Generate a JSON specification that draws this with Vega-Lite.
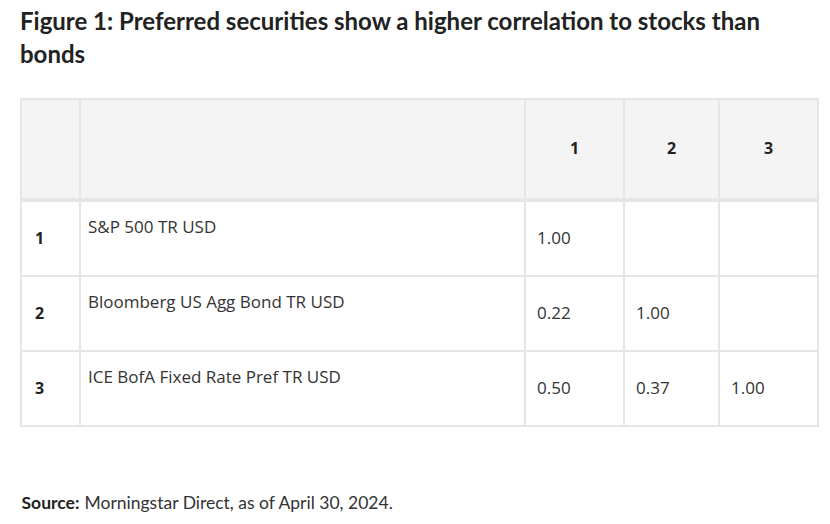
{
  "$schema": "https://vega.github.io/schema/vega-lite/v6.json",
  "background": "white",
  "padding": {"left": 20, "top": 11, "right": 0, "bottom": 0},
  "spacing": 0,
  "title": {
    "text": ["Figure 1: Preferred securities show a higher correlation to stocks than", "bonds"],
    "anchor": "start",
    "font": "Lato",
    "fontSize": 24,
    "fontWeight": "bold",
    "color": "#222222",
    "lineHeight": 33,
    "offset": 30
  },
  "datasets": {
    "header": [
      {"col": "num", "text": ""},
      {"col": "name", "text": ""},
      {"col": "c1", "text": "1"},
      {"col": "c2", "text": "2"},
      {"col": "c3", "text": "3"}
    ],
    "cells": [
      {"row": "1", "col": "num", "text": "1"},
      {"row": "1", "col": "name", "text": "S&P 500 TR USD"},
      {"row": "1", "col": "c1", "text": "1.00"},
      {"row": "1", "col": "c2", "text": ""},
      {"row": "1", "col": "c3", "text": ""},
      {"row": "2", "col": "num", "text": "2"},
      {"row": "2", "col": "name", "text": "Bloomberg US Agg Bond TR USD"},
      {"row": "2", "col": "c1", "text": "0.22"},
      {"row": "2", "col": "c2", "text": "1.00"},
      {"row": "2", "col": "c3", "text": ""},
      {"row": "3", "col": "num", "text": "3"},
      {"row": "3", "col": "name", "text": "ICE BofA Fixed Rate Pref TR USD"},
      {"row": "3", "col": "c1", "text": "0.50"},
      {"row": "3", "col": "c2", "text": "0.37"},
      {"row": "3", "col": "c3", "text": "1.00"}
    ],
    "source": [
      {"label": "Source:", "rest": "Morningstar Direct, as of April 30, 2024."}
    ]
  },
  "vconcat": [
    {
      "spacing": 0,
      "bounds": "flush",
      "hconcat": [
        {
          "width": 59, "height": 100,
          "data": {"name": "header"},
          "transform": [{"filter": "datum.col === 'num'"}],
          "layer": [
            {"mark": {"type": "rect", "fill": "#f4f4f4", "stroke": "#e6e6e6", "strokeWidth": 2}, "encoding": {}},
            {"mark": {"type": "text", "font": "Open Sans", "fontSize": 16, "fontWeight": "bold", "color": "#222222"}, "encoding": {"text": {"field": "text"}}}
          ]
        },
        {
          "width": 445, "height": 100,
          "data": {"name": "header"},
          "transform": [{"filter": "datum.col === 'name'"}],
          "layer": [
            {"mark": {"type": "rect", "fill": "#f4f4f4", "stroke": "#e6e6e6", "strokeWidth": 2}, "encoding": {}},
            {"mark": {"type": "text", "font": "Open Sans", "fontSize": 16, "fontWeight": "bold", "color": "#222222"}, "encoding": {"text": {"field": "text"}}}
          ]
        },
        {
          "width": 99, "height": 100,
          "data": {"name": "header"},
          "transform": [{"filter": "datum.col === 'c1'"}],
          "layer": [
            {"mark": {"type": "rect", "fill": "#f4f4f4", "stroke": "#e6e6e6", "strokeWidth": 2}, "encoding": {}},
            {"mark": {"type": "text", "font": "Open Sans", "fontSize": 16, "fontWeight": "bold", "color": "#222222"}, "encoding": {"text": {"field": "text"}}}
          ]
        },
        {
          "width": 95, "height": 100,
          "data": {"name": "header"},
          "transform": [{"filter": "datum.col === 'c2'"}],
          "layer": [
            {"mark": {"type": "rect", "fill": "#f4f4f4", "stroke": "#e6e6e6", "strokeWidth": 2}, "encoding": {}},
            {"mark": {"type": "text", "font": "Open Sans", "fontSize": 16, "fontWeight": "bold", "color": "#222222"}, "encoding": {"text": {"field": "text"}}}
          ]
        },
        {
          "width": 99, "height": 100,
          "data": {"name": "header"},
          "transform": [{"filter": "datum.col === 'c3'"}],
          "layer": [
            {"mark": {"type": "rect", "fill": "#f4f4f4", "stroke": "#e6e6e6", "strokeWidth": 2}, "encoding": {}},
            {"mark": {"type": "text", "font": "Open Sans", "fontSize": 16, "fontWeight": "bold", "color": "#222222"}, "encoding": {"text": {"field": "text"}}}
          ]
        }
      ]
    },
    {
      "spacing": 0,
      "bounds": "flush",
      "hconcat": [
        {
          "width": 59, "height": 225,
          "data": {"name": "cells"},
          "transform": [{"filter": "datum.col === 'num'"}],
          "encoding": {"y": {"field": "row", "type": "nominal", "sort": ["1", "2", "3"], "scale": {"paddingInner": 0, "paddingOuter": 0}, "axis": null}},
          "layer": [
            {"mark": {"type": "rect", "fill": "white", "stroke": "#e6e6e6", "strokeWidth": 2}},
            {"mark": {"type": "text", "align": "left", "dx": 14, "font": "Open Sans", "fontSize": 16, "fontWeight": "bold", "color": "#222222"},
             "encoding": {"text": {"field": "text"}, "x": {"datum": 0, "type": "quantitative", "scale": {"domain": [0, 1]}, "axis": null}}}
          ]
        },
        {
          "width": 445, "height": 225,
          "data": {"name": "cells"},
          "transform": [{"filter": "datum.col === 'name'"}],
          "encoding": {"y": {"field": "row", "type": "nominal", "sort": ["1", "2", "3"], "scale": {"paddingInner": 0, "paddingOuter": 0}, "axis": null}},
          "layer": [
            {"mark": {"type": "rect", "fill": "white", "stroke": "#e6e6e6", "strokeWidth": 2}},
            {"mark": {"type": "text", "align": "left", "dx": 8, "dy": -11, "font": "Open Sans", "fontSize": 17, "color": "#333333"},
             "encoding": {"text": {"field": "text"}, "x": {"datum": 0, "type": "quantitative", "scale": {"domain": [0, 1]}, "axis": null}}}
          ]
        },
        {
          "width": 99, "height": 225,
          "data": {"name": "cells"},
          "transform": [{"filter": "datum.col === 'c1'"}],
          "encoding": {"y": {"field": "row", "type": "nominal", "sort": ["1", "2", "3"], "scale": {"paddingInner": 0, "paddingOuter": 0}, "axis": null}},
          "layer": [
            {"mark": {"type": "rect", "fill": "white", "stroke": "#e6e6e6", "strokeWidth": 2}},
            {"mark": {"type": "text", "align": "left", "dx": 12, "font": "Open Sans", "fontSize": 17, "color": "#333333"},
             "encoding": {"text": {"field": "text"}, "x": {"datum": 0, "type": "quantitative", "scale": {"domain": [0, 1]}, "axis": null}}}
          ]
        },
        {
          "width": 95, "height": 225,
          "data": {"name": "cells"},
          "transform": [{"filter": "datum.col === 'c2'"}],
          "encoding": {"y": {"field": "row", "type": "nominal", "sort": ["1", "2", "3"], "scale": {"paddingInner": 0, "paddingOuter": 0}, "axis": null}},
          "layer": [
            {"mark": {"type": "rect", "fill": "white", "stroke": "#e6e6e6", "strokeWidth": 2}},
            {"mark": {"type": "text", "align": "left", "dx": 12, "font": "Open Sans", "fontSize": 17, "color": "#333333"},
             "encoding": {"text": {"field": "text"}, "x": {"datum": 0, "type": "quantitative", "scale": {"domain": [0, 1]}, "axis": null}}}
          ]
        },
        {
          "width": 99, "height": 225,
          "data": {"name": "cells"},
          "transform": [{"filter": "datum.col === 'c3'"}],
          "encoding": {"y": {"field": "row", "type": "nominal", "sort": ["1", "2", "3"], "scale": {"paddingInner": 0, "paddingOuter": 0}, "axis": null}},
          "layer": [
            {"mark": {"type": "rect", "fill": "white", "stroke": "#e6e6e6", "strokeWidth": 2}},
            {"mark": {"type": "text", "align": "left", "dx": 12, "font": "Open Sans", "fontSize": 17, "color": "#333333"},
             "encoding": {"text": {"field": "text"}, "x": {"datum": 0, "type": "quantitative", "scale": {"domain": [0, 1]}, "axis": null}}}
          ]
        }
      ]
    },
    {
      "width": 1, "height": 154,
      "data": {"name": "source"},
      "layer": [
        {"mark": {"type": "text", "align": "left", "font": "Lato", "fontSize": 17.5, "fontWeight": "bold", "color": "#222222"},
         "encoding": {"text": {"field": "label"}}},
        {"mark": {"type": "text", "align": "left", "dx": 63, "font": "Lato", "fontSize": 17.5, "color": "#333333"},
         "encoding": {"text": {"field": "rest"}}}
      ]
    }
  ],
  "config": {"view": {"stroke": null}, "font": "Lato"}
}
